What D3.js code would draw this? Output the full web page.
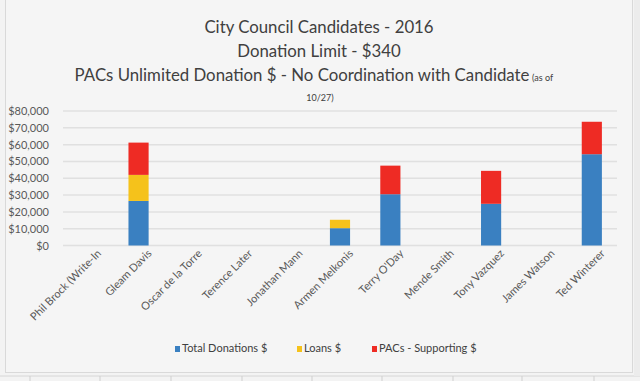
<!DOCTYPE html>
<html>
<head>
<meta charset="utf-8">
<script src="https://cdn.jsdelivr.net/npm/d3@7/dist/d3.min.js"></script>
<style>
  html, body { margin: 0; padding: 0; background: #f3f3f3; }
  svg { display: block; }
  text { font-family: Lato, "Open Sans", sans-serif; }
</style>
</head>
<body>
<svg id="chart" width="640" height="381"></svg>
<script>
const categories = ["Phil Brock (Write-In", "Gleam Davis", "Oscar de la Torre", "Terence Later", "Jonathan Mann", "Armen Melkonis", "Terry O'Day", "Mende Smith", "Tony Vazquez", "James Watson", "Ted Winterer"];
const totalDonations = [0, 26500, 0, 0, 0, 10300, 30500, 0, 24800, 0, 54300];
const loans = [0, 15500, 0, 0, 0, 5000, 0, 0, 0, 0, 0];
const pacsSupporting = [0, 19200, 0, 0, 0, 0, 17000, 0, 19600, 0, 19300];
const seriesNames = ["Total Donations $", "Loans $", "PACs - Supporting $"];
const seriesColors = ["#3a80c1", "#f5c21b", "#ee2b24"];
const yTicks = [0, 10000, 20000, 30000, 40000, 50000, 60000, 70000, 80000];
const titleLines = ["City Council Candidates - 2016", "Donation Limit - $340", "PACs Unlimited Donation $ - No Coordination with Candidate"];

const svg = d3.select("#chart");

// spreadsheet backdrop lines below the chart frame
const sheetTicks = [30, 100, 171, 242, 312, 382, 453, 522, 594];
svg.append("line").attr("x1", 0).attr("x2", 640).attr("y1", 376).attr("y2", 376).attr("stroke", "#d6d6d6");
svg.selectAll(".sheet").data(sheetTicks).join("line")
  .attr("x1", d => d).attr("x2", d => d).attr("y1", 376).attr("y2", 381)
  .attr("stroke", "#cfcfcf");
svg.append("rect").attr("x", 634).attr("y", 0).attr("width", 6).attr("height", 376).attr("fill", "#ececec");

// chart frame
svg.append("rect").attr("x", 5.5).attr("y", -1).attr("width", 627).attr("height", 373.5)
  .attr("fill", "#f5f5f5").attr("stroke", "#d9d9d9");

const x = d3.scaleBand().domain(categories).range([63, 617]).paddingInner(0.6).paddingOuter(0.3);
const y = d3.scaleLinear().domain([0, 80000]).range([245.5, 111]);

// gridlines
svg.append("g").selectAll("line").data(yTicks).join("line")
  .attr("x1", 63).attr("x2", 617)
  .attr("y1", d => y(d)).attr("y2", d => y(d))
  .attr("stroke", "#e0e0e0").attr("stroke-width", 1.5);

// y axis
const yAxis = d3.axisLeft(y).tickValues(yTicks).tickSize(0).tickPadding(0)
  .tickFormat(d => "$" + d3.format(",")(d));
const gy = svg.append("g").attr("transform", "translate(49,0)").call(yAxis);
gy.select(".domain").remove();
gy.selectAll("text").attr("fill", "#595959").style("font-size", "11px").style("font-family", "Lato, sans-serif");

// stacked bars
const rows = categories.map((c, i) => ({cat: c, s0: totalDonations[i], s1: loans[i], s2: pacsSupporting[i]}));
const stack = d3.stack().keys(["s0", "s1", "s2"]);
const stacked = stack(rows);
svg.append("g").selectAll("g").data(stacked).join("g")
  .attr("fill", (d, i) => seriesColors[i])
  .selectAll("rect").data(d => d.filter(p => p[1] > p[0])).join("rect")
  .attr("x", d => x(d.data.cat))
  .attr("width", x.bandwidth())
  .attr("y", d => y(d[1]))
  .attr("height", d => y(d[0]) - y(d[1]));

// x axis labels
const xAxis = d3.axisBottom(x).tickSize(0).tickPadding(0);
const gx = svg.append("g").attr("transform", "translate(6,251)").call(xAxis);
gx.select(".domain").remove();
gx.selectAll("text")
  .attr("fill", "#595959").style("font-size", "11px").style("font-family", "Lato, sans-serif")
  .attr("text-anchor", "end").attr("dy", "0.7em").attr("dx", "0.3em")
  .attr("transform", "rotate(-45)");

// titles
const tg = svg.append("g").attr("fill", "#404040");
tg.selectAll("text").data(titleLines).join("text")
  .attr("x", (d, i) => i < 2 ? 319 : 302)
  .attr("y", (d, i) => 33 + i * 24)
  .attr("text-anchor", "middle")
  .style("font-size", "16.8px")
  .text(d => d);
tg.append("text").attr("x", 532).attr("y", 81).style("font-size", "9px").text("(as of");
tg.append("text").attr("x", 320).attr("y", 101).attr("text-anchor", "middle").style("font-size", "9px").text("10/27)");

// legend
const legX = [175, 297, 372];
const lg = svg.append("g").selectAll("g").data(seriesNames).join("g")
  .attr("transform", (d, i) => `translate(${legX[i]},352)`);
lg.append("rect").attr("x", 0).attr("y", -6).attr("width", 5).attr("height", 6)
  .attr("fill", (d, i) => seriesColors[i]);
lg.append("text").attr("x", 7).attr("y", 0).attr("fill", "#404040")
  .style("font-size", "11px").text(d => d);
</script>
</body>
</html>
